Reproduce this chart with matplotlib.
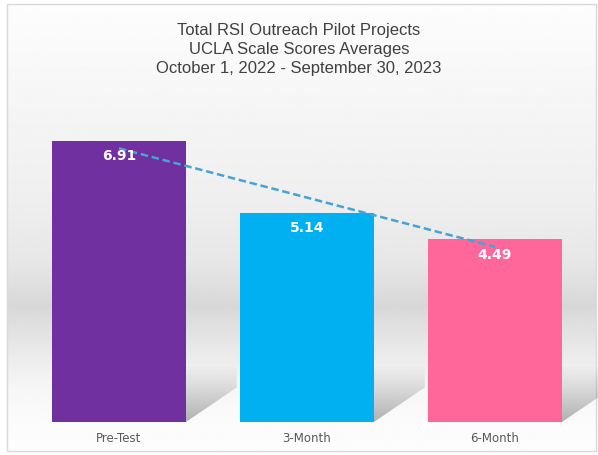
import numpy as np
import matplotlib
matplotlib.use("Agg")
import matplotlib.pyplot as plt
from matplotlib.patches import Polygon, Rectangle
from matplotlib.colors import LinearSegmentedColormap

# chart data
categories = ["Pre-Test", "3-Month", "6-Month"]
scores = [6.91, 5.14, 4.49]
bar_colors = ["#7030a0", "#00b0f0", "#ff6699"]
title_lines = ["Total RSI Outreach Pilot Projects",
               "UCLA Scale Scores Averages",
               "October 1, 2022 - September 30, 2023"]

W, H = 598, 455
fig = plt.figure(figsize=(W / 100, H / 100), dpi=100)
fig.patch.set_facecolor("white")

# background panel with vertical grey gradient and thin border
bg = fig.add_axes([7 / W, 4 / H, 589 / W, 447 / H])
bg.set_axis_off()
ys = np.linspace(0, 1, 256)
stops = [(0.0, 0.99), (0.2, 0.965), (0.44, 0.935), (0.58, 0.905), (0.675, 0.845),
         (0.76, 0.905), (0.86, 0.965), (0.94, 0.985), (1.0, 0.99)]
vals = np.interp(ys, [s[0] for s in stops], [s[1] for s in stops])
bg.imshow(vals[:, None], aspect="auto", cmap="gray", vmin=0, vmax=1,
          extent=[0, 1, 1, 0])
bg.set_xlim(0, 1)
bg.set_ylim(1, 0)
bg.add_patch(Rectangle((0, 0), 1, 1, transform=bg.transAxes, fill=False,
                       edgecolor="#d9d9d9", linewidth=1, clip_on=False))

# main plotting area
ax = fig.add_axes([0, 33 / H, 1, 325.6 / H])
ax.patch.set_alpha(0)
x = np.arange(len(categories))
width = 134 / 188
ax.set_xlim(-119 / 188, (W - 119) / 188)
ax.set_ylim(0, 8)

# soft shadows to the right of each bar
shade = LinearSegmentedColormap.from_list(
    "shade", [(0.5, 0.5, 0.5, 0.0), (0.5, 0.5, 0.5, 0.6)])
grad = np.linspace(0, 1, 100)[:, None]
for xi in x:
    r = xi + width / 2
    poly = Polygon([(r - 0.1, 0), (r, 0), (r + 0.27, 0.85), (r + 0.27, 1.4),
                    (r - 0.1, 1.4)], closed=True, facecolor="none",
                   edgecolor="none")
    ax.add_patch(poly)
    im = ax.imshow(grad, cmap=shade, aspect="auto", origin="upper",
                   extent=[r - 0.1, r + 0.27, 0, 1.4], zorder=1)
    im.set_clip_path(poly)

bars = ax.bar(x, scores, width=width, color=bar_colors, zorder=2)

for xi, v in zip(x, scores):
    ax.text(xi, v - 0.38, f"{v:.2f}", ha="center", va="center", color="white",
            fontsize=10, fontweight="bold", zorder=4)

# linear trendline
coef = np.polyfit(x, scores, 1)
ax.plot(x, np.polyval(coef, x), linestyle=(0, (3, 1.5)), color="#45a3d6",
        linewidth=1.8, zorder=3)

ax.set_xticks([])
ax.set_yticks([])
for s in ax.spines.values():
    s.set_visible(False)

for xi, c in zip(x, categories):
    ax.text(xi, -0.4, c, ha="center", va="center", color="#595959",
            fontsize=8.5)

for i, line in enumerate(title_lines):
    fig.text(0.5, 1 - (30 + i * 19.5) / H, line, ha="center", va="center",
             color="#404040", fontsize=12, family=["Liberation Sans", "DejaVu Sans"])

fig.savefig("out.png", dpi=100)
